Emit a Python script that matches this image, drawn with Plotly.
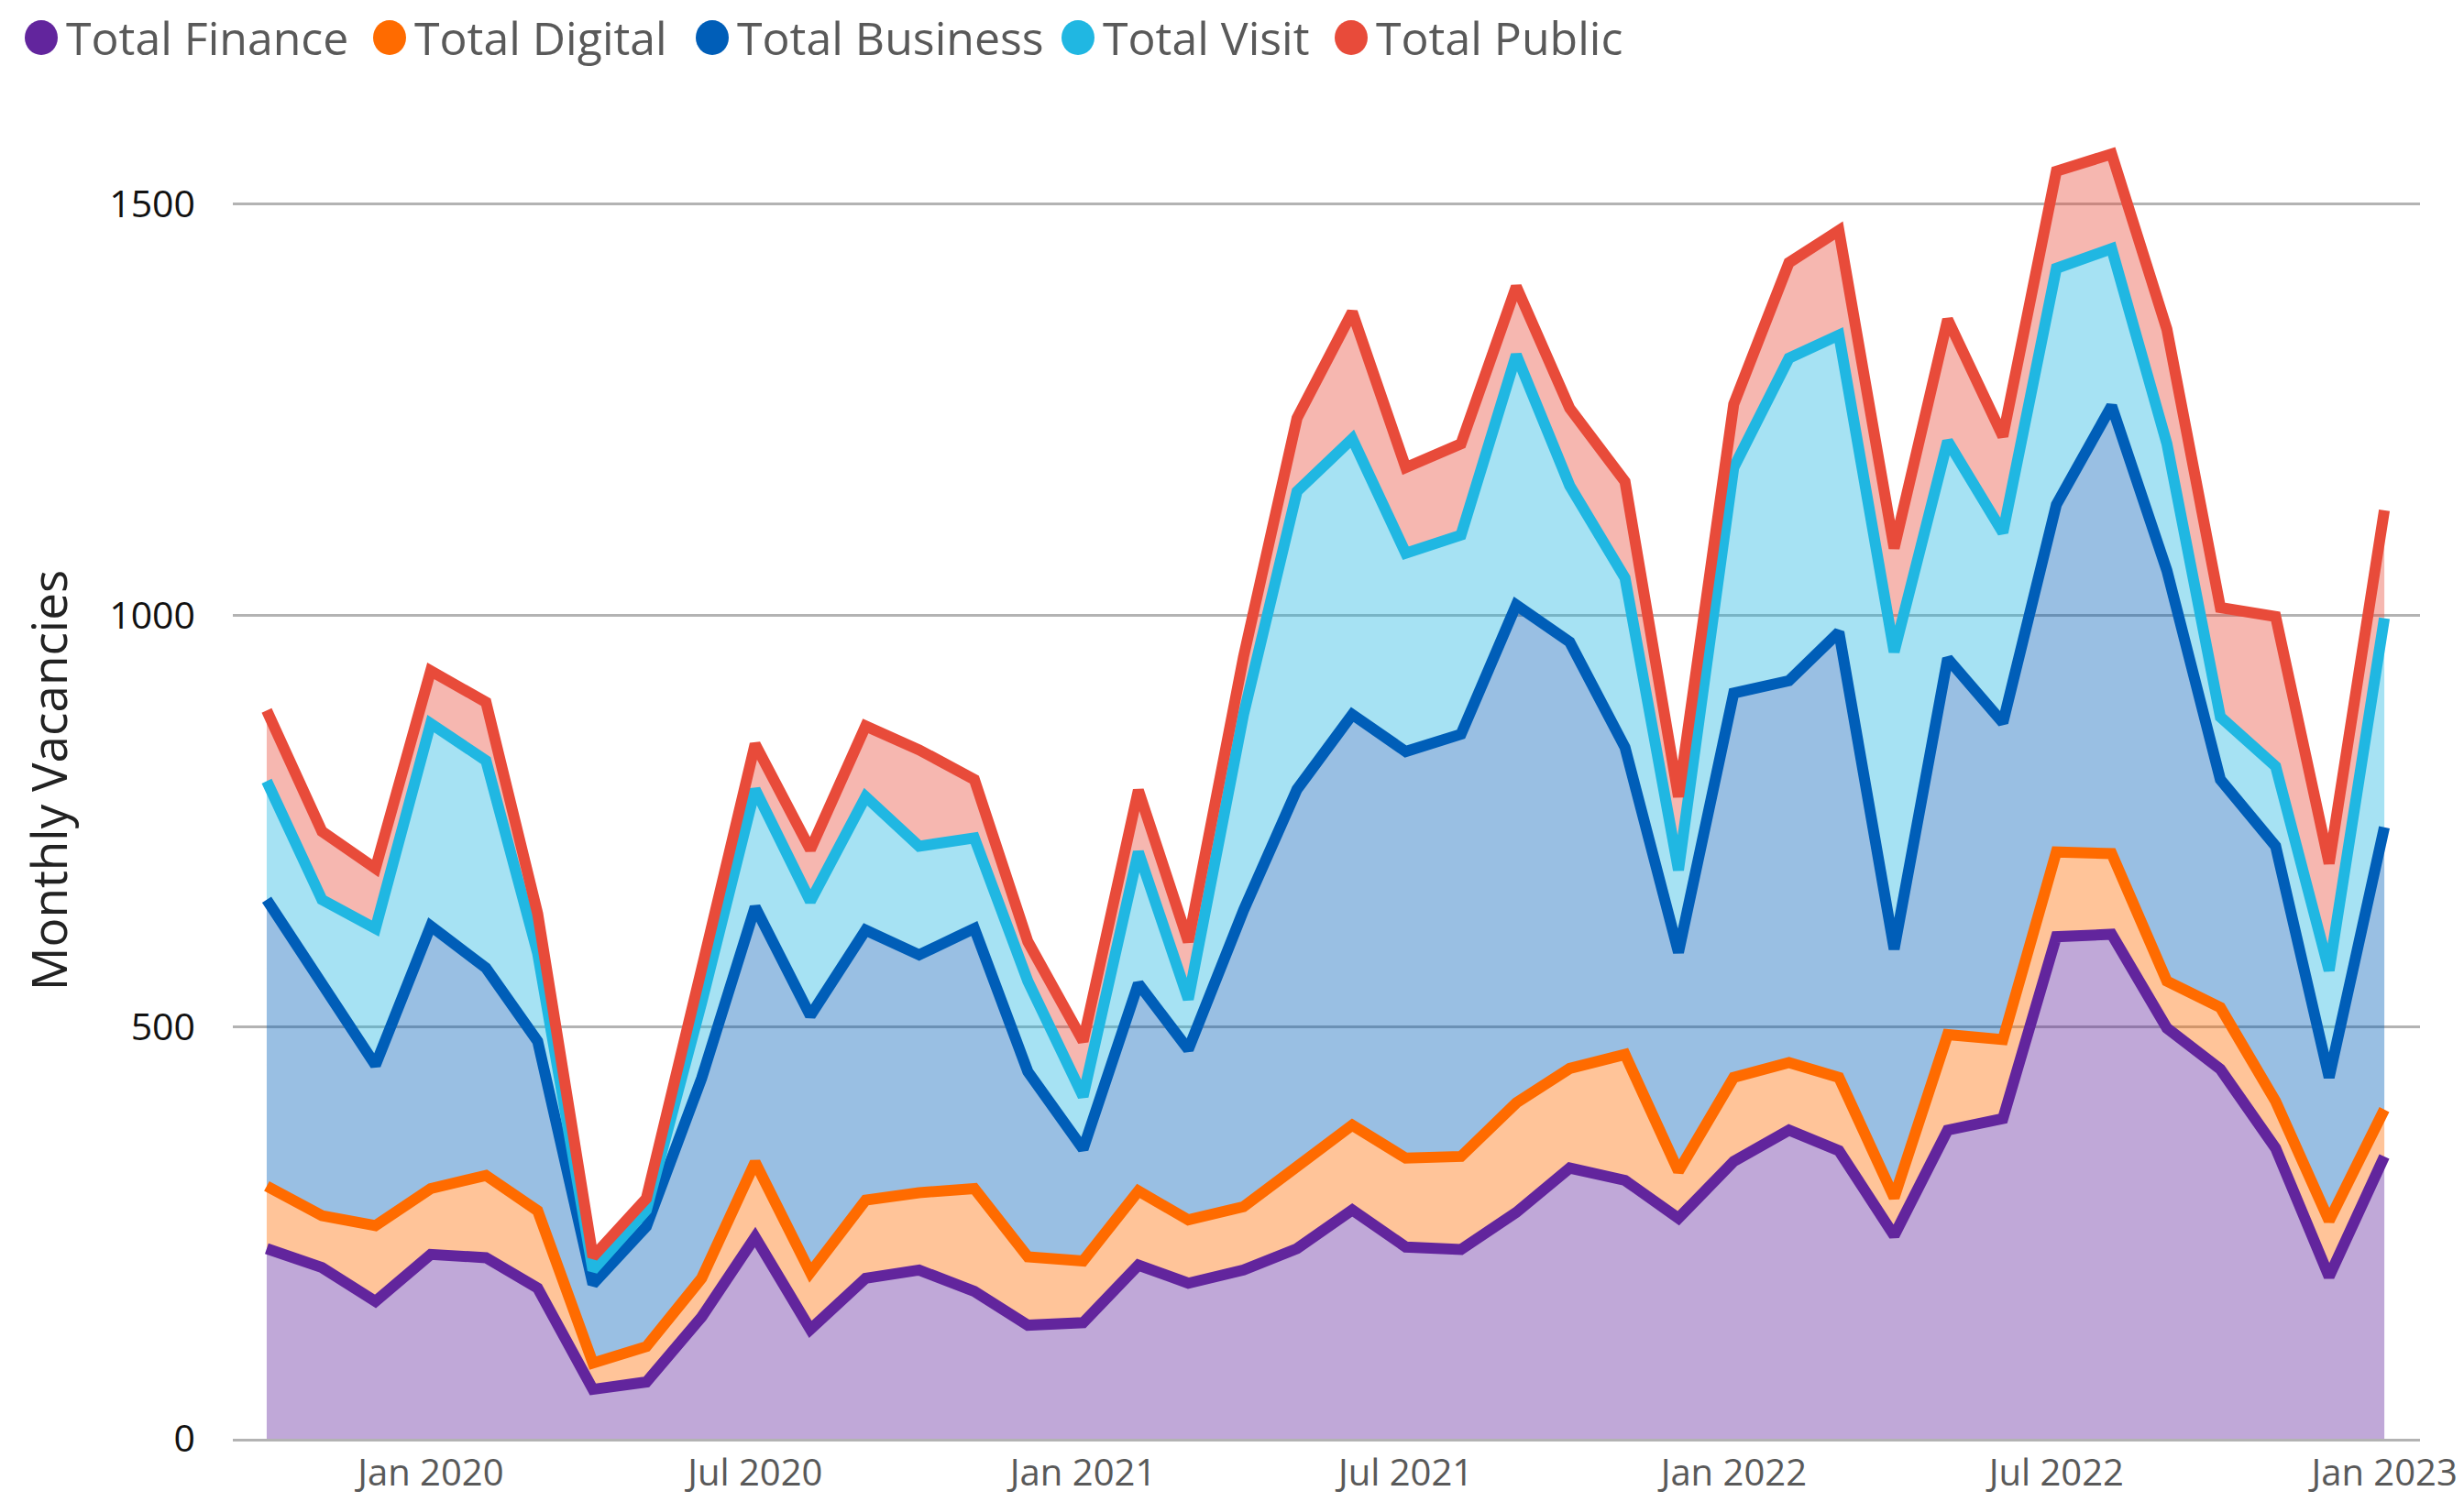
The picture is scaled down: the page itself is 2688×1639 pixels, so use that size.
import plotly.graph_objects as go
import pandas as pd

# ---- data (monthly vacancies, per series) ----
months = pd.date_range("2019-10-01", "2023-01-01", freq="MS").strftime("%Y-%m-%d").tolist()

finance = [231, 208, 167, 224, 220, 183, 60, 69, 148, 245, 133, 195, 205, 179, 138, 141, 211, 189, 205, 231,
           278, 233, 230, 275, 329, 314, 268, 337, 375, 350, 247, 375, 389, 610, 613, 499, 449, 353, 197, 343]
digital = [76, 63, 92, 80, 100, 94, 32, 43, 47, 91, 69, 95, 94, 125, 83, 75, 90, 77, 77, 99,
           103, 108, 113, 133, 121, 153, 57, 102, 82, 89, 46, 116, 96, 103, 98, 57, 75, 57, 68, 57]
business = [348, 279, 195, 319, 252, 206, 96, 146, 243, 310, 312, 328, 289, 316, 225, 136, 252, 207, 360, 459,
            499, 494, 513, 605, 518, 373, 266, 467, 464, 541, 302, 457, 385, 422, 544, 499, 277, 310, 174, 343]
visit = [144, 105, 166, 246, 252, 107, 17, 20, 92, 143, 139, 162, 132, 110, 110, 64, 160, 61, 238, 362,
         335, 241, 242, 304, 190, 206, 100, 274, 392, 361, 361, 264, 231, 287, 191, 154, 76, 97, 130, 254]
public = [86, 83, 73, 64, 71, 48, 16, 14, 41, 55, 63, 86, 117, 71, 48, 67, 75, 70, 70, 89,
          154, 104, 111, 83, 94, 117, 89, 77, 116, 127, 126, 148, 117, 118, 115, 139, 133, 182, 130, 131]

series_names = ["Total Finance", "Total Digital", "Total Business", "Total Visit", "Total Public"]
series_values = [finance, digital, business, visit, public]
colors = ["#62259D", "#FF6B00", "#005EB8", "#20B7E2", "#E84B3A"]

y_ticks = [0, 500, 1000, 1500]

# ---- layout geometry (pixels) ----
W, H = 2688, 1639
ML, MR, MT, MB = 254, 48, 133, 69
PW, PH = W - ML - MR, H - MT - MB
FONT = "Open Sans, Noto Sans, DejaVu Sans, sans-serif"


def rgba(hex_color, a):
    h = hex_color.lstrip("#")
    r, g, b = int(h[0:2], 16), int(h[2:4], 16), int(h[4:6], 16)
    return f"rgba({r},{g},{b},{a})"


def paper_x(px):
    return (px - ML) / PW


def paper_y(py):
    return (H - MB - py) / PH


fig = go.Figure()
for name, vals, col in zip(series_names, series_values, colors):
    fig.add_trace(go.Scatter(
        x=months, y=vals, name=name, mode="lines", stackgroup="one",
        line=dict(color=col, width=12, shape="linear"),
        fillcolor=rgba(col, 0.4), showlegend=False,
    ))

# custom legend (large round markers + text)
legend_centers = [45, 425, 777, 1176, 1474]
legend_y = 41
shapes = []
annotations = []
for name, col, cx in zip(series_names, colors, legend_centers):
    shapes.append(dict(
        type="circle", xref="paper", yref="paper", xsizemode="pixel", ysizemode="pixel",
        xanchor=paper_x(cx), yanchor=paper_y(legend_y), x0=-18, x1=18, y0=-19, y1=19,
        fillcolor=col, line=dict(width=0),
    ))
    annotations.append(dict(
        text=name, xref="paper", yref="paper", x=paper_x(cx + 25), y=paper_y(legend_y),
        xanchor="left", yanchor="middle", showarrow=False,
        font=dict(family=FONT, size=50, color="#595959"),
    ))

fig.update_layout(
    width=W, height=H,
    margin=dict(l=ML, r=MR, t=MT, b=MB, autoexpand=False),
    paper_bgcolor="white", plot_bgcolor="white",
    showlegend=False,
    shapes=shapes, annotations=annotations,
    font=dict(family=FONT),
)
fig.update_xaxes(
    type="date", range=["2019-09-12", "2023-01-21"],
    tickformat="%b %Y", dtick="M6", tick0="2020-01-01",
    showgrid=False, showline=True, linecolor="#B3B3B3", linewidth=3,
    ticks="", tickfont=dict(family=FONT, size=40, color="#595959"),
    zeroline=False,
)
fig.update_yaxes(
    range=[0, 1600], tickvals=y_ticks, showgrid=True, gridcolor="#B3B3B3", gridwidth=3,
    zeroline=False, showline=False, ticks="", ticklabelstandoff=40,
    tickfont=dict(family=FONT, size=41, color="#111111"),
    title=dict(text="Monthly Vacancies", font=dict(family=FONT, size=53, color="#222222"), standoff=28),
)

fig.write_html(
    "out.html",
    config={"displayModeBar": False},
    post_script="document.body.style.margin='0';document.body.style.overflow='hidden';",
)
